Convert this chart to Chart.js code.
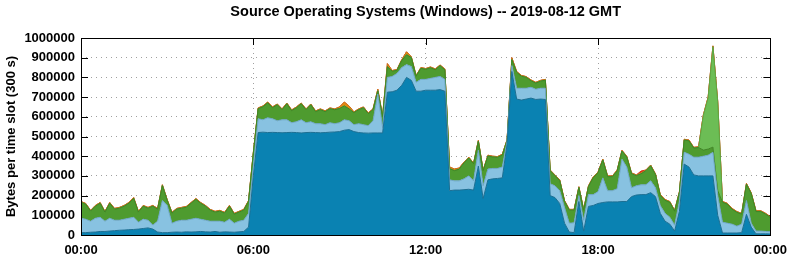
<!DOCTYPE html>
<html>
<head>
<meta charset="utf-8">
<script src="https://cdn.jsdelivr.net/npm/chart.js@4.4.1/dist/chart.umd.min.js"></script>
<style>
  body { margin: 0; background: #fff; }
  canvas { display: block; }
</style>
</head>
<body>
<canvas id="osChart" width="795" height="260"></canvas>
<script>
// one slot every 10 minutes (last one closes the day), values in thousands of bytes per slot
const slotMinutes = Array.from({ length: 145 }, (_, i) => i * 10);

const darkBlue = [
  12, 12, 14, 15, 18, 18, 20, 22, 24, 25, 27, 28,
  30, 33, 36, 30, 15, 12, 12, 14, 15, 14, 16, 15,
  16, 18, 16, 15, 18, 14, 16, 15, 14, 16, 18, 40,
  300, 520, 522, 520, 521, 520, 519, 520, 521, 520, 518, 520,
  521, 520, 519, 520, 522, 523, 525, 532, 535, 525, 520, 518,
  517, 518, 518, 518, 725, 727, 735, 760, 800, 785, 730, 730,
  735, 735, 735, 738, 730, 225, 228, 228, 230, 232, 228, 350,
  185, 280, 285, 287, 290, 460, 830, 690, 685, 690, 695, 688,
  690, 688, 200, 190, 160, 60, 15, 12, 170, 20, 145, 150,
  160, 165, 168, 168, 168, 170, 170, 195, 203, 205, 205, 215,
  195, 110, 70, 55, 20, 120, 360, 345, 305, 300, 300, 300,
  300, 100, 10, 10, 10, 10, 12, 105, 40, 6, 6, 6,
  5
];
const lightBlue = [
  73, 68, 56, 70, 72, 52, 65, 53, 51, 55, 58, 62,
  35, 47, 39, 20, 55, 163, 138, 46, 55, 61, 59, 65,
  69, 62, 59, 55, 52, 56, 49, 65, 46, 54, 57, 70,
  50, 70, 63, 75, 69, 60, 66, 65, 49, 55, 67, 50,
  54, 45, 46, 40, 48, 42, 45, 53, 45, 35, 45, 42,
  38, 62, 197, 27, 75, 78, 85, 90, 65, 70, 45, 60,
  55, 60, 65, 67, 60, 55, 47, 47, 55, 68, 47, 80,
  65, 55, 53, 51, 55, 15, 30, 55, 60, 55, 55, 52,
  55, 57, 60, 60, 65, 80, 45, 50, 30, 55, 60, 55,
  60, 125, 57, 57, 67, 215, 175, 45, 47, 50, 50, 60,
  45, 40, 40, 35, 30, 50, 60, 65, 90, 95, 100, 105,
  120, 100, 55, 50, 45, 35, 43, 70, 20, 14, 14, 12,
  12
];
const darkGreen = [
  81, 76, 51, 61, 71, 46, 76, 56, 61, 66, 76, 96,
  51, 66, 61, 96, 61, 76, 26, 51, 61, 61, 66, 81,
  96, 81, 71, 56, 46, 51, 46, 66, 46, 46, 51, 61,
  66, 51, 66, 76, 56, 81, 51, 81, 61, 71, 81, 66,
  86, 61, 71, 66, 71, 71, 72, 70, 60, 61, 71, 86,
  61, 56, 17, 56, 55, 26, 16, 36, 50, 46, 31, 56,
  51, 54, 39, 54, 49, 57, 52, 59, 81, 91, 86, 46,
  76, 66, 58, 56, 61, 5, 30, 81, 61, 55, 33, 31,
  36, 41, 66, 51, 51, 31, 66, 64, 41, 51, 41, 86,
  96, 91, 71, 71, 91, 41, 51, 71, 51, 56, 71, 76,
  66, 51, 66, 76, 71, 46, 62, 68, 46, 49, 31, 31,
  26, 26, 101, 97, 76, 70, 51, 83, 150, 99, 99, 88,
  72
];
const lightGreen = [
  0, 0, 0, 0, 0, 0, 0, 0, 0, 0, 0, 0,
  0, 0, 0, 0, 0, 0, 0, 0, 0, 0, 0, 0,
  0, 0, 0, 0, 0, 0, 0, 0, 0, 0, 0, 0,
  0, 0, 0, 0, 0, 0, 0, 0, 0, 0, 0, 0,
  0, 0, 0, 0, 0, 0, 0, 0, 0, 0, 0, 0,
  0, 0, 0, 0, 0, 0, 0, 0, 0, 0, 0, 0,
  0, 0, 0, 0, 0, 0, 0, 0, 0, 0, 0, 0,
  0, 0, 0, 0, 0, 0, 0, 0, 0, 0, 0, 0,
  0, 0, 0, 0, 0, 0, 0, 0, 0, 0, 0, 0,
  0, 0, 0, 0, 0, 0, 0, 0, 0, 0, 0, 0,
  0, 0, 0, 0, 0, 0, 0, 0, 0, 0, 175, 260,
  510, 450, 0, 0, 0, 0, 0, 0, 0, 0, 0, 0,
  0
];
const orange = [
  4, 4, 4, 4, 4, 4, 4, 4, 4, 4, 4, 4,
  4, 4, 4, 4, 4, 4, 4, 4, 4, 4, 4, 4,
  4, 4, 4, 4, 4, 4, 4, 4, 4, 4, 4, 4,
  4, 4, 4, 4, 4, 4, 4, 4, 4, 4, 4, 4,
  4, 4, 4, 4, 4, 4, 8, 20, 15, 4, 4, 4,
  4, 4, 8, 4, 15, 4, 4, 4, 15, 4, 4, 4,
  4, 4, 4, 4, 4, 8, 8, 6, 4, 4, 4, 4,
  4, 4, 4, 4, 4, 4, 10, 4, 4, 4, 4, 4,
  4, 4, 4, 4, 4, 4, 4, 4, 4, 4, 4, 4,
  4, 4, 4, 4, 4, 4, 4, 4, 4, 4, 4, 4,
  4, 4, 4, 4, 4, 4, 4, 4, 4, 4, 4, 4,
  4, 4, 4, 4, 4, 4, 4, 4, 4, 4, 4, 4,
  4
];
const red = [
  0, 0, 0, 0, 0, 0, 0, 0, 0, 0, 0, 0,
  0, 0, 0, 0, 0, 0, 0, 0, 0, 0, 0, 0,
  0, 0, 0, 0, 0, 0, 0, 0, 0, 0, 0, 0,
  0, 0, 0, 0, 0, 0, 0, 0, 0, 0, 0, 0,
  0, 0, 0, 0, 0, 0, 0, 0, 0, 0, 0, 0,
  0, 0, 0, 0, 0, 0, 0, 0, 0, 0, 0, 0,
  0, 0, 0, 0, 0, 0, 0, 0, 0, 0, 0, 0,
  0, 0, 0, 0, 0, 0, 0, 0, 0, 0, 0, 0,
  0, 0, 0, 0, 0, 0, 0, 0, 0, 0, 0, 0,
  0, 0, 0, 0, 0, 0, 0, 0, 0, 10, 0, 0,
  0, 0, 0, 0, 0, 0, 0, 0, 0, 0, 0, 0,
  0, 0, 0, 0, 0, 0, 0, 0, 0, 0, 0, 0,
  0
];

const xTicks = [0, 360, 720, 1080, 1440];
const xTickLabels = ["00:00", "06:00", "12:00", "18:00", "00:00"];
const yTicks = [0, 100000, 200000, 300000, 400000, 500000, 600000, 700000, 800000, 900000, 1000000];

const FONT = "'Liberation Sans', Arial, sans-serif";

function series(vals) {
  return vals.map((v, i) => ({ x: slotMinutes[i], y: v * 1000 }));
}

const layers = [
  { data: darkBlue, fill: "#0a82b2", line: "#1d6f93" },
  { data: lightBlue, fill: "#88c2e1", line: "#6ea6c4" },
  { data: darkGreen, fill: "#4e9b2f", line: "#3f8526" },
  { data: lightGreen, fill: "#6cbd55", line: "#5aa844" },
  { data: orange, fill: "#e48a12", line: "#c8781a" },
  { data: red, fill: "#d8341c", line: "#d8341c" }
];

// ticks pointing inward (behind the areas), frame and title on top
const frame = {
  id: "frame",
  beforeDatasetsDraw(chart) {
    const { ctx, chartArea: a, scales: { x, y } } = chart;
    ctx.save();
    ctx.strokeStyle = "#000";
    ctx.lineWidth = 1;
    ctx.beginPath();
    yTicks.forEach(v => {
      const py = Math.round(y.getPixelForValue(v)) + 0.5;
      ctx.moveTo(a.left, py); ctx.lineTo(a.left + 7, py);
      ctx.moveTo(a.right, py); ctx.lineTo(a.right - 7, py);
    });
    xTicks.forEach(v => {
      const px = Math.round(x.getPixelForValue(v)) + 0.5;
      ctx.moveTo(px, a.top); ctx.lineTo(px, a.top + 7);
      ctx.moveTo(px, a.bottom); ctx.lineTo(px, a.bottom - 7);
    });
    ctx.stroke();
    ctx.restore();
  },
  afterDatasetsDraw(chart) {
    const { ctx, chartArea: a } = chart;
    ctx.save();
    ctx.strokeStyle = "#000";
    ctx.lineWidth = 1;
    ctx.strokeRect(Math.round(a.left) + 0.5, Math.round(a.top) + 0.5,
      Math.round(a.right - a.left), Math.round(a.bottom - a.top));
    ctx.fillStyle = "#000";
    ctx.font = "bold 14.5px " + FONT;
    ctx.textAlign = "center";
    ctx.textBaseline = "middle";
    ctx.fillText("Source Operating Systems (Windows) -- 2019-08-12 GMT", (a.left + a.right) / 2, 12);
    ctx.restore();
  }
};

new Chart(document.getElementById("osChart"), {
  type: "line",
  data: {
    datasets: layers.map((l, i) => ({
      data: series(l.data),
      backgroundColor: l.fill,
      borderColor: l.line,
      borderWidth: 1,
      pointRadius: 0,
      tension: 0,
      fill: i === 0 ? "origin" : "-1"
    }))
  },
  options: {
    responsive: false,
    animation: false,
    layout: { padding: { top: 38, right: 20, left: 0, bottom: 0 } },
    plugins: { legend: { display: false }, tooltip: { enabled: false }, title: { display: false } },
    scales: {
      x: {
        type: "linear",
        min: 0,
        max: 1440,
        afterFit: s => { s.height = 25; },
        afterBuildTicks: s => { s.ticks = xTicks.map(v => ({ value: v })); },
        grid: { color: "#a0a0a0", lineWidth: 1, drawTicks: false },
        border: { display: false, dash: [1, 4] },
        ticks: {
          padding: 8,
          color: "#000",
          font: { family: FONT, size: 13, weight: "bold" },
          callback: v => xTickLabels[xTicks.indexOf(v)]
        }
      },
      y: {
        stacked: true,
        min: 0,
        max: 1000000,
        afterFit: s => { s.width = 81; },
        afterBuildTicks: s => { s.ticks = yTicks.map(v => ({ value: v })); },
        grid: { color: "#a0a0a0", lineWidth: 1, drawTicks: false },
        border: { display: false, dash: [1, 4] },
        ticks: {
          padding: 6,
          color: "#000",
          font: { family: FONT, size: 13, weight: "bold" },
          callback: v => String(v)
        },
        title: {
          display: true,
          text: "Bytes per time slot (300 s)",
          color: "#000",
          font: { family: FONT, size: 13, weight: "bold" },
          padding: { top: 4, bottom: 0 }
        }
      }
    }
  },
  plugins: [frame]
});
</script>
</body>
</html>
